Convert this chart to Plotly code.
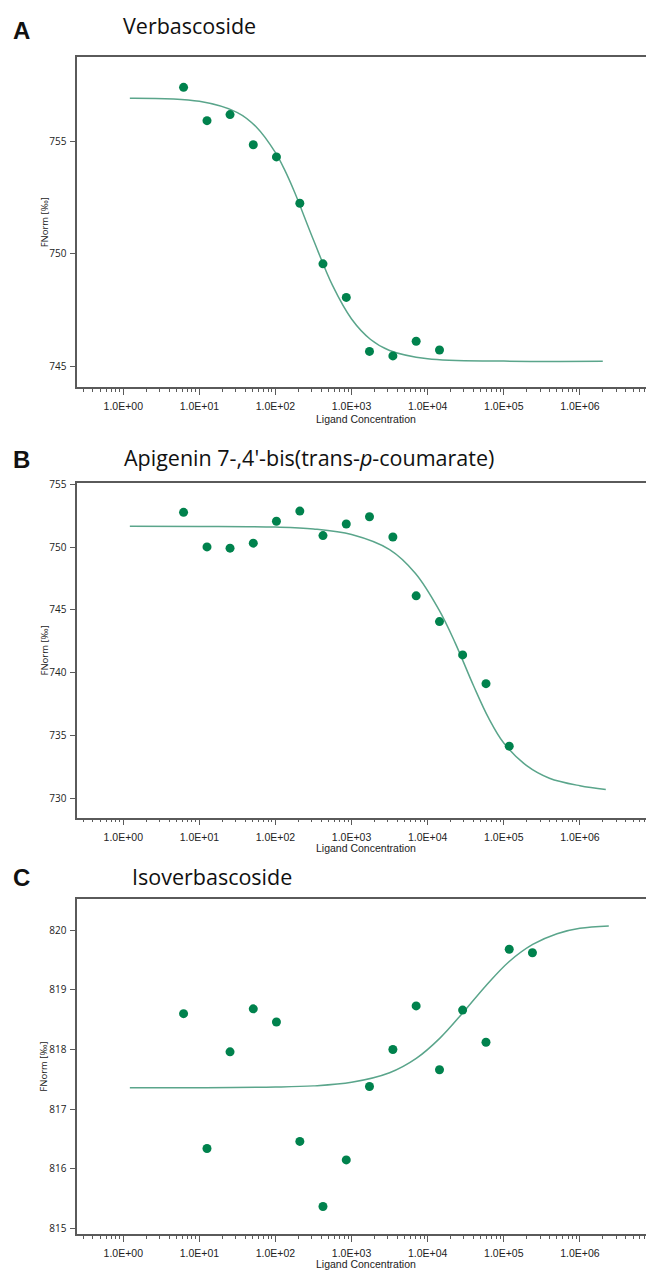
import plotly.graph_objects as go

# ---------------- data ----------------
conc = [6.2, 12.6, 25.3, 51.1, 103, 209, 421, 852, 1720, 3490, 7060,
        14300, 28800, 58400, 118000, 238000]

verb_y = [757.39, 755.91, 756.18, 754.84, 754.30, 752.24, 749.55, 748.06,
          745.66, 745.46, 746.11, 745.72]
apig_y = [752.77, 750.02, 749.92, 750.32, 752.06, 752.87, 750.92, 751.84,
          752.42, 750.81, 746.12, 744.07, 741.42, 739.13, 734.15]
iso_y = [818.60, 816.34, 817.96, 818.68, 818.46, 816.46, 815.37, 816.15,
         817.38, 818.00, 818.73, 817.66, 818.66, 818.12, 819.68, 819.62]

verb_fit_x = [1.22, 10, 31.6, 56, 100, 133, 178, 316, 562, 1000, 1780, 3160,
              10000, 100000, 2000000]
verb_fit_y = [756.91, 756.77, 756.27, 755.63, 754.49, 753.70, 752.74, 750.61,
              748.59, 747.10, 746.19, 745.70, 745.33, 745.23, 745.22]

apig_fit_x = [1.22, 10, 100, 316, 1000, 3160, 6920, 14100, 22900, 39800,
              63100, 100000, 200000, 398000, 1000000, 2190000]
apig_fit_y = [751.66, 751.65, 751.60, 751.45, 751.00, 749.80, 747.90, 745.00,
              742.40, 739.00, 736.40, 734.40, 732.60, 731.60, 731.00, 730.70]

iso_fit_x = [1.22, 10, 100, 316, 1000, 3160, 7080, 14500, 28800, 57500,
             117000, 240000, 501000, 1000000, 2400000]
iso_fit_y = [817.36, 817.36, 817.37, 817.39, 817.45, 817.61, 817.85, 818.19,
             818.61, 819.06, 819.47, 819.76, 819.94, 820.03, 820.07]

titles = ["Verbascoside",
          "Apigenin 7-,4'-bis(trans-<i>p</i>-coumarate)",
          "Isoverbascoside"]
letters = ["A", "B", "C"]

x_tickvals = [1, 10, 100, 1e3, 1e4, 1e5, 1e6]
x_ticktext = ["1.0E+00", "1.0E+01", "1.0E+02", "1.0E+03", "1.0E+04",
              "1.0E+05", "1.0E+06"]
y_ticks = [[745, 750, 755], [730, 735, 740, 745, 750, 755],
           [815, 816, 817, 818, 819, 820]]
y_title = "FNorm [‰]"
x_title = "Ligand Concentration"

minor_vals = [m * 10 ** k for k in range(-1, 7) for m in range(2, 10)]

# ---------------- layout geometry (pixels) ----------------
W, H = 646, 1271
def px(x): return x / W
def py(y): return 1 - y / H

panels = [
    dict(top=51.7, bot=383.3, yr=[744.07, 758.72], letter_y=25, title_x=121, title_y=20,
         xt_y=415),
    dict(top=480, bot=816, yr=[728.47, 755.08], letter_y=456, title_x=122, title_y=454,
         xt_y=847),
    dict(top=898, bot=1235, yr=[814.905, 820.52], letter_y=876, title_x=130, title_y=875,
         xt_y=1265),
]

series = [(conc[:12], verb_y, verb_fit_x, verb_fit_y),
          (conc[:15], apig_y, apig_fit_x, apig_fit_y),
          (conc[:16], iso_y, iso_fit_x, iso_fit_y)]

PT = "#00824d"
LN = "#5aa58b"
AX = "#5a5a5a"

fig = go.Figure()
annotations = []
for i, (p, (sx, sy, fx, fy)) in enumerate(zip(panels, series)):
    n = "" if i == 0 else str(i + 1)
    xa, ya = "x" + n, "y" + n
    fig.add_trace(go.Scatter(x=fx, y=fy, mode="lines", xaxis=xa, yaxis=ya,
                             line=dict(color=LN, width=1.5, shape="spline", smoothing=1),
                             hoverinfo="skip", showlegend=False))
    fig.add_trace(go.Scatter(x=sx, y=sy, mode="markers", xaxis=xa, yaxis=ya,
                             marker=dict(color=PT, size=9, line=dict(width=0)),
                             showlegend=False))
    fig.layout["xaxis" + n] = dict(
        type="log", range=[-0.604, 6.869], domain=[px(77.3), 1], anchor=ya,
        showline=True, linecolor=AX, linewidth=1.8, mirror=True,
        ticks="outside", ticklen=5.5, tickwidth=1, tickcolor=AX,
        tickmode="array", tickvals=x_tickvals, ticktext=x_ticktext,
        ticklabelstandoff=3,
        tickfont=dict(family="Liberation Sans Narrow, Liberation Sans, Arial, sans-serif",
                      size=10.5, color="#222222"),
        minor=dict(tickmode="array", tickvals=minor_vals, ticks="outside",
                   ticklen=3, tickwidth=1, tickcolor=AX),
        showgrid=False, zeroline=False, fixedrange=True)
    fig.layout["yaxis" + n] = dict(
        range=p["yr"], domain=[py(p["bot"]), py(p["top"])], anchor=xa,
        showline=True, linecolor=AX, linewidth=1.8, mirror=False,
        ticks="outside", ticklen=5, tickwidth=1, tickcolor=AX,
        tickmode="array", tickvals=y_ticks[i],
        tickfont=dict(family="Open Sans, sans-serif", size=10, color="#222222"),
        ticklabelstandoff=2,
        showgrid=False, zeroline=False, fixedrange=True)
    annotations.append(dict(text="<b>" + letters[i] + "</b>", x=px(21), y=py(p["letter_y"]),
                            xref="paper", yref="paper", showarrow=False,
                            xanchor="center", yanchor="middle",
                            font=dict(family="Liberation Sans, Arial, sans-serif",
                                      size=24, color="#111111")))
    annotations.append(dict(text=titles[i], x=px(p["title_x"]), y=py(p["title_y"]),
                            xref="paper", yref="paper", showarrow=False,
                            xanchor="left", yanchor="middle",
                            font=dict(family="Open Sans, sans-serif", size=21.5,
                                      color="#111111")))
    annotations.append(dict(text=y_title, x=px(44), y=py((p["top"] + p["bot"]) / 2),
                            xref="paper", yref="paper", showarrow=False, textangle=-90,
                            xanchor="center", yanchor="middle",
                            font=dict(family="Open Sans, sans-serif", size=9.5,
                                      color="#222222")))
    annotations.append(dict(text=x_title, x=px(366), y=py(p["xt_y"]),
                            xref="paper", yref="paper", showarrow=False,
                            xanchor="center", yanchor="middle",
                            font=dict(family="Liberation Sans, Arial, sans-serif",
                                      size=10.5, color="#222222")))

fig.update_layout(width=W, height=H, margin=dict(l=0, r=0, t=0, b=0),
                  paper_bgcolor="white", plot_bgcolor="white",
                  annotations=annotations, showlegend=False)

fig.write_html("out.html")
